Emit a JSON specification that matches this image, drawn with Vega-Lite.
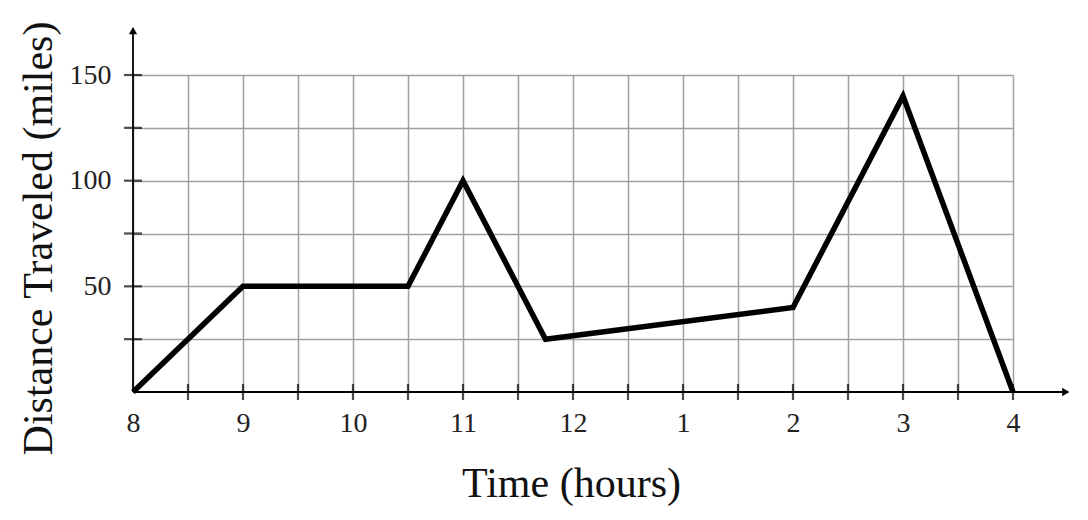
{
  "$schema": "https://vega.github.io/schema/vega-lite/v6.json",
  "width": 880,
  "height": 317,
  "autosize": "none",
  "padding": {"left": 133, "top": 75, "right": 75, "bottom": 128},
  "background": "white",
  "config": {"view": {"stroke": null}, "font": "Liberation Serif"},
  "encoding": {
    "x": {
      "field": "x", "type": "quantitative",
      "scale": {"domain": [0, 8], "nice": false, "zero": false},
      "axis": {
        "values": [0, 0.5, 1, 1.5, 2, 2.5, 3, 3.5, 4, 4.5, 5, 5.5, 6, 6.5, 7, 7.5, 8],
        "grid": true, "gridColor": "#a0a0a0", "gridWidth": 1.5,
        "domain": false, "ticks": false,
        "labelExpr": "datum.value % 1 == 0 ? '' + (((datum.value + 7) % 12) + 1) : ''",
        "labelFontSize": 28, "labelPadding": 17, "labelColor": "#222",
        "labelFlush": false, "labelOverlap": false,
        "title": "Time (hours)", "titleFontSize": 42, "titleFontWeight": "normal",
        "titleColor": "#111", "titleX": 438, "titleY": 91, "titleBaseline": "middle"
      }
    },
    "y": {
      "field": "y", "type": "quantitative",
      "scale": {"domain": [0, 150], "nice": false},
      "axis": {
        "values": [25, 50, 75, 100, 125, 150],
        "grid": true, "gridColor": "#a0a0a0", "gridWidth": 1.5,
        "domain": false, "ticks": false,
        "labelExpr": "datum.value % 50 == 0 ? datum.label : ''",
        "labelFontSize": 28, "labelPadding": 22, "labelColor": "#222",
        "labelFlush": false, "labelOverlap": false,
        "title": "Distance Traveled (miles)", "titleFontSize": 42, "titleFontWeight": "normal",
        "titleColor": "#111", "titleX": -95, "titleY": 163, "titleAngle": -90,
        "titleAlign": "center", "titleBaseline": "middle"
      }
    }
  },
  "layer": [
    {
      "data": {"values": [{"x": 0, "y": 0, "x2": 8.45}]},
      "mark": {"type": "rule", "color": "black", "strokeWidth": 1.8},
      "encoding": {"x2": {"field": "x2"}}
    },
    {
      "data": {"values": [{"x": 0, "y": 0, "y2": 170}]},
      "mark": {"type": "rule", "color": "black", "strokeWidth": 1.8},
      "encoding": {"y2": {"field": "y2"}}
    },
    {
      "data": {"values": [
        {"x": 0.5, "y": 0}, {"x": 1, "y": 0}, {"x": 1.5, "y": 0}, {"x": 2, "y": 0},
        {"x": 2.5, "y": 0}, {"x": 3, "y": 0}, {"x": 3.5, "y": 0}, {"x": 4, "y": 0},
        {"x": 4.5, "y": 0}, {"x": 5, "y": 0}, {"x": 5.5, "y": 0}, {"x": 6, "y": 0},
        {"x": 6.5, "y": 0}, {"x": 7, "y": 0}, {"x": 7.5, "y": 0}, {"x": 8, "y": 0}
      ]},
      "mark": {"type": "tick", "orient": "vertical", "size": 16, "thickness": 2.2, "color": "black"}
    },
    {
      "data": {"values": [
        {"x": 0, "y": 25}, {"x": 0, "y": 50}, {"x": 0, "y": 75},
        {"x": 0, "y": 100}, {"x": 0, "y": 125}, {"x": 0, "y": 150}
      ]},
      "mark": {"type": "tick", "orient": "horizontal", "size": 18, "thickness": 2.2, "color": "black"}
    },
    {
      "data": {"values": [
        {"x": 8.48, "y": 0, "shape": "triangle-right"},
        {"x": 0, "y": 171, "shape": "triangle-up"}
      ]},
      "mark": {"type": "point", "filled": true, "color": "black", "size": 70, "opacity": 1},
      "encoding": {"shape": {"field": "shape", "type": "nominal", "scale": null}}
    },
    {
      "data": {"values": [
        {"x": 0, "y": 0}, {"x": 1, "y": 50}, {"x": 2.5, "y": 50}, {"x": 3, "y": 100},
        {"x": 3.75, "y": 25}, {"x": 6, "y": 40}, {"x": 7, "y": 140}, {"x": 8, "y": 0}
      ]},
      "mark": {"type": "line", "color": "black", "strokeWidth": 5.5, "strokeJoin": "miter"}
    }
  ]
}
